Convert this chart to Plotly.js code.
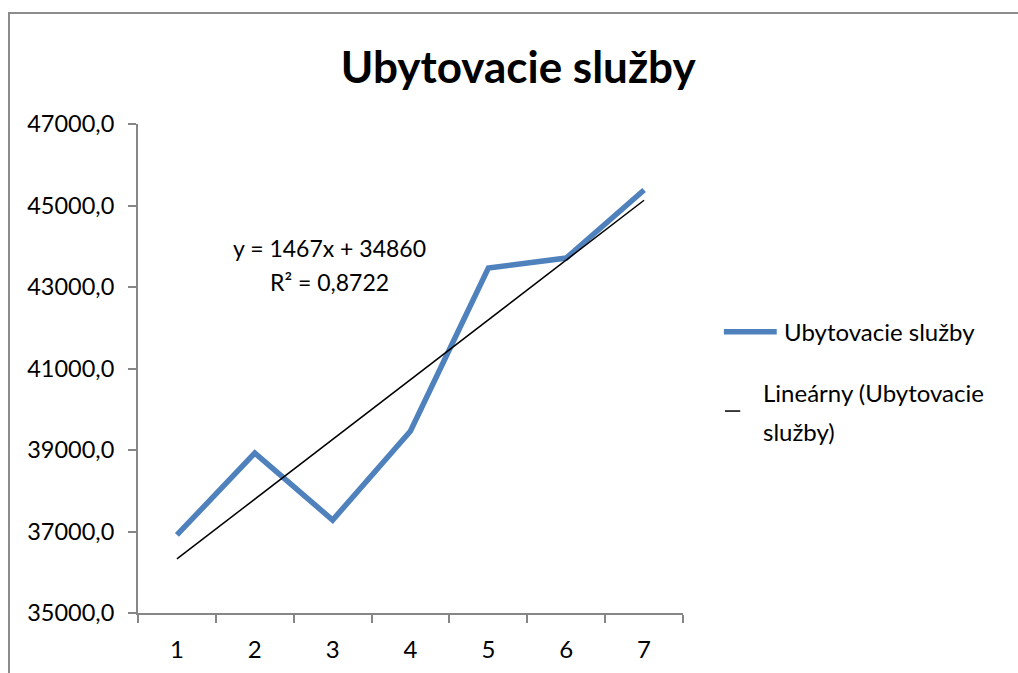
<!DOCTYPE html>
<html>
<head>
<meta charset="utf-8">
<script src="https://cdn.plot.ly/plotly-3.0.1.min.js"></script>
<style>
  html, body { margin: 0; padding: 0; background: #fff; }
  #frame { position: absolute; left: 8px; top: 12px; width: 1020px; height: 670px; border-left: 2px solid #8c8c8c; border-top: 2px solid #8c8c8c; box-sizing: border-box; }
  #chart { position: absolute; left: 0; top: 0; width: 1018px; height: 673px; }
</style>
</head>
<body>
<div id="frame"></div>
<div id="chart"></div>
<script>
// ---- data ----
const categories = ["1", "2", "3", "4", "5", "6", "7"];
const seriesName = "Ubytovacie služby";
const values = [36915, 38925, 37280, 39465, 43465, 43710, 45380];
const trendName = "Lineárny (Ubytovacie služby)";
const trendSlope = 1467;
const trendIntercept = 34860;
const trendR2Text = "R² = 0,8722";
const trendEqText = "y = 1467x + 34860";
const yTicks = [35000, 37000, 39000, 41000, 43000, 45000, 47000];
const chartTitle = "Ubytovacie služby";

const trendValues = categories.map(c => trendSlope * Number(c) + trendIntercept);

const FONT = "Lato, 'Open Sans', sans-serif";
const blue = "#4F81BD";
const axisGray = "#868686";

const traces = [
  {
    x: categories, y: values, type: "scatter", mode: "lines", name: seriesName,
    line: { color: blue, width: 5.5, shape: "linear" }, showlegend: false
  },
  {
    x: categories, y: trendValues, type: "scatter", mode: "lines", name: trendName,
    line: { color: "#000000", width: 1.5 }, showlegend: false
  }
];

const layout = {
  width: 1018, height: 673,
  margin: { l: 138, r: 335, t: 124, b: 60 },
  paper_bgcolor: "rgba(0,0,0,0)", plot_bgcolor: "rgba(0,0,0,0)",
  separators: ", ",
  font: { family: FONT, color: "#000", size: 24 },
  title: {
    text: "<b>" + chartTitle + "</b>",
    font: { family: FONT, size: 44, color: "#000" },
    x: 0.509, xref: "container", xanchor: "center",
    y: 1 - 68 / 673, yref: "container", yanchor: "middle"
  },
  xaxis: {
    type: "category", range: [-0.5, 6.5], tickson: "boundaries", ticks: "outside", ticklen: 8, tickwidth: 2,
    tickcolor: axisGray, showline: true, linecolor: axisGray, linewidth: 2,
    showgrid: false, zeroline: false, fixedrange: true,
    tickfont: { family: FONT, size: 24, color: "#000" }, ticklabelstandoff: 14
  },
  yaxis: {
    range: [35000, 47000], tickvals: yTicks, tickformat: ".1f",
    ticks: "outside", ticklen: 8, tickwidth: 2, tickcolor: axisGray,
    showline: true, linecolor: axisGray, linewidth: 2,
    showgrid: false, zeroline: false, fixedrange: true,
    tickfont: { family: FONT, size: 23.5, color: "#000" }, ticklabelstandoff: 9
  },
  shapes: [
    { type: "line", xref: "paper", yref: "paper", x0: 1.075, x1: 1.172, y0: 0.575, y1: 0.575,
      line: { color: blue, width: 5.5 } },
    { type: "line", xref: "paper", yref: "paper", x0: 1.077, x1: 1.105, y0: 0.413, y1: 0.413,
      line: { color: "#000", width: 1.5 } }
  ],
  annotations: [
    { xref: "paper", yref: "paper", x: 0.352, y: 0.746, text: trendEqText, showarrow: false,
      xanchor: "center", yanchor: "middle", font: { family: FONT, size: 23, color: "#000" } },
    { xref: "paper", yref: "paper", x: 0.352, y: 0.677, text: trendR2Text, showarrow: false,
      xanchor: "center", yanchor: "middle", font: { family: FONT, size: 23, color: "#000" } },
    { xref: "paper", yref: "paper", x: 1.181, y: 0.575, text: seriesName, showarrow: false,
      xanchor: "left", yanchor: "middle", font: { family: FONT, size: 24, color: "#000" } },
    { xref: "paper", yref: "paper", x: 1.143, y: 0.450, text: trendName.split(" (")[0] + " (" + trendName.split(" (")[1].split(" ")[0], showarrow: false,
      xanchor: "left", yanchor: "middle", font: { family: FONT, size: 24, color: "#000" } },
    { xref: "paper", yref: "paper", x: 1.143, y: 0.372, text: trendName.split(" ").slice(-1)[0], showarrow: false,
      xanchor: "left", yanchor: "middle", font: { family: FONT, size: 24, color: "#000" } }
  ]
};

Plotly.newPlot("chart", traces, layout, { displayModeBar: false, staticPlot: true });
</script>
</body>
</html>
